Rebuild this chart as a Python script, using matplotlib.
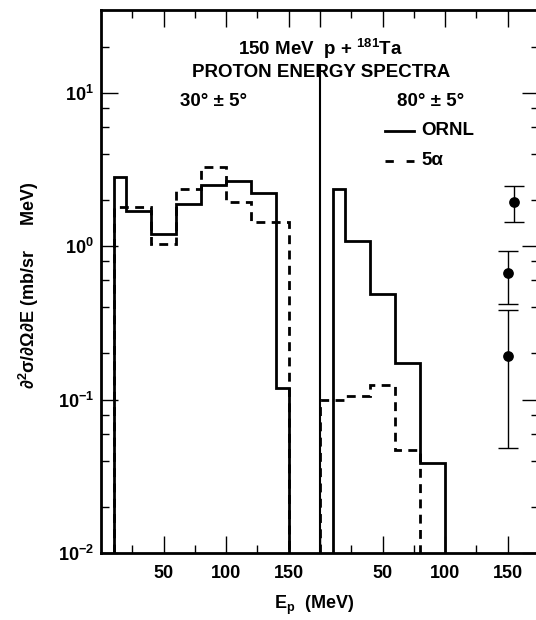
import matplotlib
matplotlib.use('Agg')
import matplotlib.pyplot as plt
from matplotlib.ticker import FixedLocator, FixedFormatter, LogLocator, NullFormatter

plt.rcParams['font.family'] = ['Liberation Sans', 'DejaVu Sans']
plt.rcParams['font.weight'] = 'bold'
plt.rcParams['mathtext.default'] = 'regular'

# ---- data ----
OFFSET = 175.0   # start of the 80 deg panel on the shared energy axis

left_edges = [10, 20, 40, 60, 80, 100, 120, 140, 150]
left_ornl = [2.81, 1.70, 1.20, 1.90, 2.50, 2.66, 2.21, 0.119]
left_5a_edges = [10, 40, 60, 80, 100, 120, 150]
left_5a = [1.81, 1.03, 2.38, 3.30, 1.95, 1.44]

right_ornl_edges = [10, 20, 40, 60, 80, 100]
right_ornl = [2.35, 1.08, 0.486, 0.174, 0.0386]
right_5a_edges = [0, 20, 40, 60, 80]
right_5a = [0.100, 0.106, 0.125, 0.047]

pt_E = [155, 150, 150]
pt_val = [1.95, 0.666, 0.193]
pt_lo = [1.44, 0.418, 0.0487]
pt_hi = [2.48, 0.931, 0.384]

major_E = [50, 100, 150]
minor_E = [25, 75, 125]
major_labels = ['50', '100', '150']

# ---- figure ----
fig = plt.figure(figsize=(5.36, 6.20), dpi=100)
ax = fig.add_axes([101/536, 67/620, 438/536, 543.5/620])
ax.set_yscale('log')
ax.set_xlim(0, 2 * OFFSET)
ax.set_ylim(0.01, 35)

LW = 2.0
dash = (0, (3.2, 2.3))
base = 0.01

ax.stairs(left_ornl, left_edges, baseline=base, fill=False, color='black',
          linewidth=LW, zorder=3)
ax.stairs(left_5a, left_5a_edges, baseline=base, fill=False, color='black',
          linewidth=LW, linestyle=dash, zorder=3)
ax.stairs(right_ornl, [e + OFFSET for e in right_ornl_edges], baseline=base,
          fill=False, color='black', linewidth=LW, zorder=3)
ax.stairs(right_5a, [e + OFFSET for e in right_5a_edges], baseline=base,
          fill=False, color='black', linewidth=LW, linestyle=dash, zorder=3)

# divider between panels
ax.plot([OFFSET, OFFSET], [0.01, 15], color='black', linewidth=1.5, zorder=2)

# data points with error bars
xs = [e + OFFSET for e in pt_E]
yerr = [[v - l for v, l in zip(pt_val, pt_lo)], [h - v for v, h in zip(pt_val, pt_hi)]]
ax.errorbar(xs, pt_val, yerr=yerr, fmt='o', color='black', ms=6.7,
            capsize=7.5, elinewidth=1.0, capthick=1.0, zorder=4)

# ticks
majors = major_E + [OFFSET] + [e + OFFSET for e in major_E]
minors = minor_E + [e + OFFSET for e in minor_E]
ax.xaxis.set_major_locator(FixedLocator(majors))
ax.xaxis.set_major_formatter(FixedFormatter(major_labels + [''] + major_labels))
ax.xaxis.set_minor_locator(FixedLocator(minors))
ax.yaxis.set_major_locator(LogLocator(base=10, numticks=10))
ax.yaxis.set_minor_locator(LogLocator(base=10, subs=(2, 4, 6, 8), numticks=10))
ax.yaxis.set_minor_formatter(NullFormatter())
ax.set_yticks([0.01, 0.1, 1, 10])
ax.set_yticklabels(['10$^{-2}$', '10$^{-1}$', '10$^{0}$', '10$^{1}$'])

ax.tick_params(which='both', direction='in', top=True, right=True,
               labelsize=13, width=1.0)
ax.tick_params(axis='x', pad=9)
ax.tick_params(axis='y', pad=5)
ax.tick_params(which='major', length=12)
ax.tick_params(which='minor', length=6)
for s in ax.spines.values():
    s.set_linewidth(2.0)

# texts
tkw = dict(transform=ax.transAxes, fontsize=13.5, fontweight='bold',
           ha='center', va='center', zorder=5)
ax.text(0.502, 0.928, '150 MeV  p + $^{181}$Ta', **tkw)
ax.text(0.502, 0.884, 'PROTON ENERGY SPECTRA', **tkw)
ax.text(0.256, 0.831, '30° ± 5°', **tkw)
ax.text(0.753, 0.831, '80° ± 5°', **tkw)

# legend (hand placed)
ax.plot([0.648, 0.715], [0.777, 0.777], transform=ax.transAxes, color='black',
        linewidth=LW, zorder=5)
ax.text(0.731, 0.777, 'ORNL', transform=ax.transAxes, fontsize=13.5,
        fontweight='bold', ha='left', va='center')
ax.plot([0.648, 0.715], [0.722, 0.722], transform=ax.transAxes, color='black',
        linewidth=LW, linestyle=(0, (3.0, 4.6)), zorder=5)
ax.text(0.731, 0.722, '5α', transform=ax.transAxes, fontsize=13.5,
        fontweight='bold', ha='left', va='center')

fig.text(314/536, 1 - 605/620, 'E$_p$  (MeV)', fontsize=13, fontweight='bold',
         ha='center', va='center')
fig.text(28.5/536, 1 - 285/620, '∂$^2$σ/∂Ω∂E (mb/sr     MeV)', fontsize=13,
         fontweight='bold', ha='center', va='center', rotation=90)

fig.savefig('out.png', dpi=100, facecolor='white')
